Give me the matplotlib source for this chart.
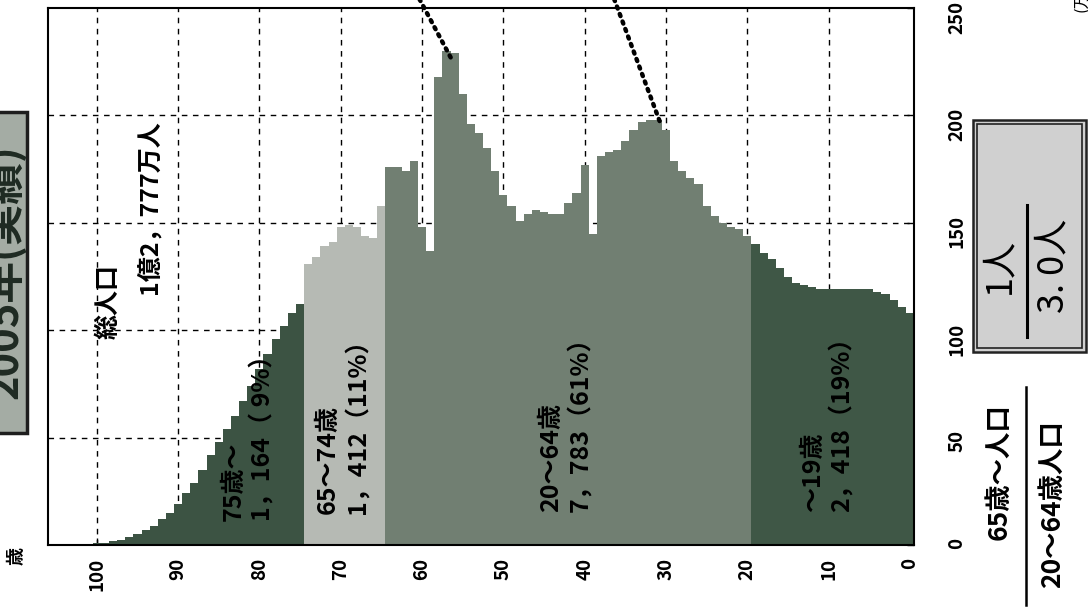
import matplotlib
matplotlib.use('Agg')
import matplotlib.pyplot as plt
from matplotlib.patches import Rectangle
from matplotlib.lines import Line2D

plt.rcParams['font.family'] = ['Noto Sans CJK JP', 'DejaVu Sans']

# 2005年 年齢別人口（万人）
ages = list(range(0, 101))
pop = [108, 111, 114, 117, 118, 119, 119, 119, 119, 119,   # 0-9
       119, 119, 120, 121, 122, 125, 129, 133, 136, 140,   # 10-19
       144, 147, 148, 150, 153, 158, 168, 171, 174, 179,   # 20-29
       193, 198, 198, 197, 193, 188, 184, 183, 181, 145,   # 30-39
       177, 164, 159, 154, 154, 155, 156, 154, 151, 158,   # 40-49
       163, 174, 185, 192, 196, 210, 229, 230, 218, 137,   # 50-59
       148, 179, 174, 176, 176, 158, 143, 144, 148, 149,   # 60-69
       148, 141, 139, 134, 131, 112, 108, 102, 96, 89,     # 70-79
       82, 74, 67, 60, 54, 48, 42, 35, 29, 24,             # 80-89
       19, 15, 12, 9, 7, 5, 3.5, 2.5, 1.7, 1.1, 0.8]       # 90-100

# 年齢区分
group_lo = [0, 20, 65, 75]
group_hi = [19, 64, 74, 100]
group_names = ['～19歳', '20～64歳', '65～74歳', '75歳～']
group_totals = ['2，418（19%）', '7，783（61%）', '1，412（11%）', '1，164（ 9%）']
group_colors = ['#3f5746', '#717f72', '#b6bab4', '#3c5343']

total_label = ['総人口', '1億2，777万人']
ratio_top = ['65歳～人口', '1人']
ratio_bottom = ['20～64歳人口', '3. 0人']
year_label = '2005年(実績)'

W, H = 1088, 613


def fx(px):
    return px / W


def fy(py):
    return 1 - py / H


fig = plt.figure(figsize=(W / 100, H / 100), dpi=100)
ax = fig.add_axes([fx(48), fy(545), (914 - 48) / W, (545 - 8) / H])

colors = []
for a in ages:
    for lo, hi, c in zip(group_lo, group_hi, group_colors):
        if lo <= a <= hi:
            colors.append(c)
ax.bar(ages, pop, width=1.0, color=colors, edgecolor='none', zorder=2)

# 格子（破線）
for a in range(10, 101, 10):
    ax.axvline(a, color='k', lw=1.0, ls=(0, (4, 4)), zorder=1)
for p in [50, 100, 150, 200]:
    ax.axhline(p, color='k', lw=1.0, ls=(0, (4, 4)), zorder=1)

ax.set_xlim(106, -0.5)
ax.set_ylim(0, 250)
ax.set_xticks(range(0, 101, 10))
ax.set_yticks(range(0, 251, 50))
ax.yaxis.tick_right()
ax.tick_params(axis='x', direction='in', length=5, width=1, labelrotation=90,
               labelsize=13.5, pad=9)
ax.tick_params(axis='y', direction='in', length=5, width=1, labelrotation=90,
               labelsize=13.5, pad=24)
for t in ax.get_xticklabels() + ax.get_yticklabels():
    t.set_fontweight('bold')
for s in ax.spines.values():
    s.set_linewidth(1.5)

# 団塊の世代・団塊ジュニアへの引出し線
ax.plot([61.0, 56.2], [259, 225], color='k', lw=3.2, ls=(0, (0.5, 1.3)),
        dash_capstyle='round', clip_on=False, zorder=5)
ax.plot([36.75, 30.75], [258, 197], color='k', lw=3.2, ls=(0, (0.5, 1.3)),
        dash_capstyle='round', clip_on=False, zorder=5)

# 区分ラベル
label_x = [10.1, 42.25, 69.7, 81.3]
label_y = [15.5, 15.5, 14.5, 11.0]
for name, tot, x, y in zip(group_names, group_totals, label_x, label_y):
    ax.text(x, y, name + '\n' + tot, rotation=90, rotation_mode='anchor',
            ha='left', va='center', fontsize=18, fontweight='bold',
            linespacing=1.25, zorder=6)

ax.text(98.6, 96, total_label[0], rotation=90, rotation_mode='anchor',
        ha='left', va='center', fontsize=18, fontweight='bold', zorder=6)
ax.text(93.6, 117, total_label[1], rotation=90, rotation_mode='anchor',
        ha='left', va='center', fontsize=18, fontweight='bold', zorder=6)

# 年次の見出し（左端）
fig.patches.append(Rectangle((fx(-30), fy(433)), fx(57), (433 - 112) / H,
                             transform=fig.transFigure, facecolor='#a4aca4',
                             edgecolor='#1e1e1e', lw=2.5))
fig.text(fx(5), fy(272), year_label, rotation=90, ha='center', va='center',
         fontsize=30, fontweight='bold', color='#1e2a22')

fig.text(fx(16), fy(556), '歳', rotation=90, ha='center', va='center',
         fontsize=13, fontweight='bold')
fig.text(fx(1082), fy(12), '(万人)', rotation=90, rotation_mode='anchor',
         ha='left', va='center', fontsize=12)

# 65歳以上人口 / 20～64歳人口
fig.text(fx(999), fy(540), ratio_top[0], rotation=90, rotation_mode='anchor',
         ha='left', va='center', fontsize=19, fontweight='bold')
fig.text(fx(1052), fy(588), ratio_bottom[0], rotation=90, rotation_mode='anchor',
         ha='left', va='center', fontsize=19, fontweight='bold')
fig.lines.append(Line2D([fx(1026), fx(1026)], [fy(387), fy(605)],
                        transform=fig.transFigure, color='k', lw=1.8))

fig.patches.append(Rectangle((fx(973), fy(352)), fx(113), (352 - 120) / H,
                             transform=fig.transFigure, facecolor='#d0d0d0',
                             edgecolor='#222222', lw=1.8))
fig.patches.append(Rectangle((fx(977), fy(348)), fx(105), (348 - 124) / H,
                             transform=fig.transFigure, facecolor='none',
                             edgecolor='#222222', lw=1.2))
fig.text(fx(999), fy(266), ratio_top[1], rotation=90, ha='center', va='center',
         fontsize=26)
fig.text(fx(1053), fy(266), ratio_bottom[1], rotation=90, ha='center',
         va='center', fontsize=26)
fig.lines.append(Line2D([fx(1027), fx(1027)], [fy(205), fy(337)],
                        transform=fig.transFigure, color='k', lw=2.2))

fig.savefig('out.png', dpi=100)
